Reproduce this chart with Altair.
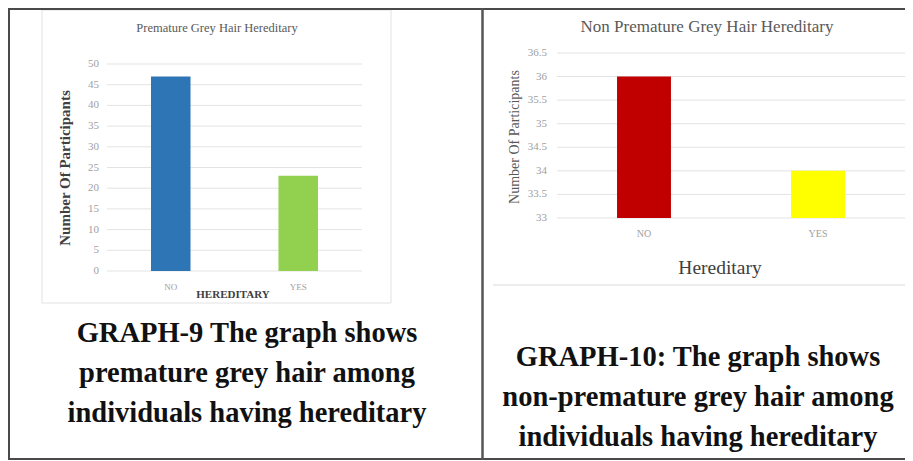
import altair as alt
import pandas as pd

# ---------------- data ----------------
categories = ["NO", "YES"]
premature_counts = [47, 23]
non_premature_counts = [36, 34]
premature_ticks = [0, 5, 10, 15, 20, 25, 30, 35, 40, 45, 50]
non_premature_ticks = [33, 33.5, 34, 34.5, 35, 35.5, 36, 36.5]
premature_colors = ["#2E75B6", "#92D050"]
non_premature_colors = ["#C00000", "#FFFF00"]

title_left = "Premature Grey Hair Hereditary"
title_right = "Non Premature Grey Hair Hereditary"
y_title = "Number Of Participants"
x_title_left = "HEREDITARY"
x_title_right = "Hereditary"
caption_left = ["GRAPH-9 The graph shows",
                "premature grey hair among",
                "individuals having hereditary"]
caption_right = ["GRAPH-10: The graph shows",
                 "non-premature grey hair among",
                 "individuals having hereditary"]

W, H = 897, 453
SERIF = "Liberation Serif"
one = pd.DataFrame({"k": [0]})


def fmt(v):
    return str(int(v)) if float(v).is_integer() else str(v)


def bar_panel(counts, ticks, colors, xr, yr, ydom, tick_x, xlab_y, lab_size):
    sx = alt.Scale(domain=categories, range=xr, paddingInner=0.69, paddingOuter=0.345)
    sy = alt.Scale(domain=ydom, range=yr, zero=False, nice=False)
    bars_df = pd.DataFrame({"cat": categories, "v": counts})
    tick_df = pd.DataFrame({"t": ticks, "lab": [fmt(t) for t in ticks]})
    grid = alt.Chart(tick_df).mark_rule(color="#e3e3e3", strokeWidth=1).encode(
        y=alt.Y("t:Q", scale=sy, axis=None),
        x=alt.value(xr[0]), x2=alt.value(xr[1]))
    tlabels = alt.Chart(tick_df).mark_text(
        align="right", baseline="middle", font=SERIF, fontSize=11, color="#a0a0a0"
    ).encode(y=alt.Y("t:Q", scale=sy, axis=None), x=alt.value(tick_x), text="lab:N")
    bars = alt.Chart(bars_df).mark_bar().encode(
        x=alt.X("cat:N", scale=sx, axis=None),
        y=alt.Y("v:Q", scale=sy, axis=None),
        y2=alt.datum(ydom[0]),
        color=alt.Color("cat:N", scale=alt.Scale(domain=categories, range=colors), legend=None))
    xlabels = alt.Chart(bars_df).mark_text(
        align="center", baseline="middle", font=SERIF, fontSize=lab_size, color="#a0a0a0"
    ).encode(x=alt.X("cat:N", scale=sx, axis=None), y=alt.value(xlab_y), text="cat:N")
    return alt.layer(grid, tlabels, bars, xlabels)


def text_at(txt, x, y, size, color="#404040", bold=False, angle=0, line_height=None):
    kw = dict(text=txt, align="center", baseline="middle", font=SERIF, fontSize=size,
              color=color, fontWeight="bold" if bold else "normal")
    if angle:
        kw["angle"] = angle
    if line_height:
        kw["lineHeight"] = line_height
    return alt.Chart(one).mark_text(**kw).encode(x=alt.value(x), y=alt.value(y))


def hline(x1, x2, y, color, w):
    return alt.Chart(one).mark_rule(color=color, strokeWidth=w).encode(
        x=alt.value(x1), x2=alt.value(x2), y=alt.value(y))


def vline(x, y1, y2, color, w):
    return alt.Chart(one).mark_rule(color=color, strokeWidth=w).encode(
        x=alt.value(x), y=alt.value(y1), y2=alt.value(y2))


# left chart box
left_box = alt.Chart(one).mark_rect(fill="white", stroke="#e2e2e2", strokeWidth=1).encode(
    x=alt.value(34), x2=alt.value(383), y=alt.value(2), y2=alt.value(295))

left_panel = bar_panel(premature_counts, premature_ticks, premature_colors,
                       [99, 354], [263, 56], [0, 50], 91, 279, 9)
right_panel = bar_panel(non_premature_counts, non_premature_ticks, non_premature_colors,
                        [549, 897], [210, 45], [33, 36.5], 539, 226, 10)

layers = [
    left_box,
    left_panel,
    text_at(title_left, 209, 20, 12.5, "#595959"),
    text_at(y_title, 57, 160, 15, "#404040", bold=True, angle=270),
    text_at(x_title_left, 225, 287, 11, "#404040", bold=True),
    right_panel,
    text_at(title_right, 699, 19, 17, "#595959"),
    text_at(y_title, 507, 129, 14, "#595959", angle=270),
    text_at(x_title_right, 712, 260, 19.5, "#404040"),
    hline(485, 897, 277, "#e6e6e6", 1.5),
    # captions
    text_at(caption_left, 239, 325, 28.5, "#111111", bold=True, line_height=40),
    text_at(caption_right, 690, 349, 28.5, "#111111", bold=True, line_height=40),
    # table borders
    hline(0, 897, 1, "#4a4a4a", 2),
    hline(0, 897, 451, "#4a4a4a", 2),
    vline(1, 0, 452, "#4a4a4a", 2),
    vline(474.5, 0, 452, "#555555", 2.5),
]

chart = alt.layer(*layers).resolve_scale(
    x="independent", y="independent", color="independent"
).properties(
    width=W, height=H, padding=0, autosize=alt.AutoSizeParams(type="none"),
    background="white"
).configure_view(stroke=None)

chart.save("out.html", embed_options={"renderer": "svg", "actions": False})
